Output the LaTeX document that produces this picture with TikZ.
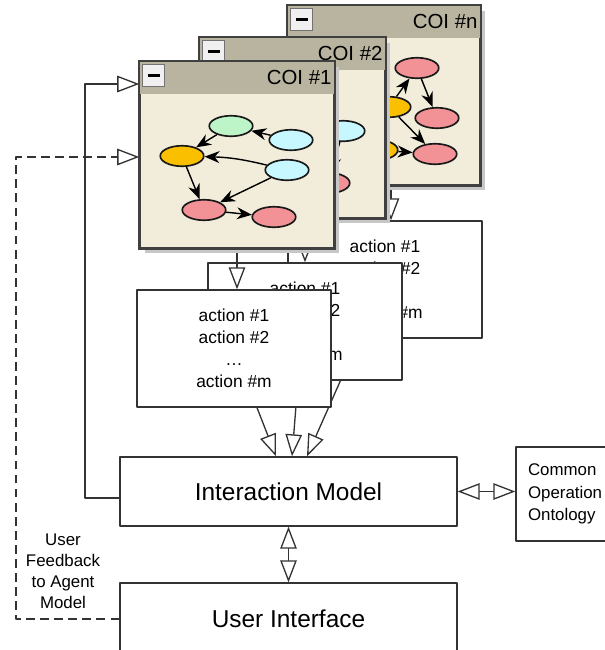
\documentclass[tikz,border=0pt]{standalone}
\usepackage{fontspec}
\setmainfont{Liberation Sans}
\usetikzlibrary{arrows.meta,shapes.geometric,shadows}
\pgfdeclarelayer{back}
\pgfdeclarelayer{front}
\pgfsetlayers{back,main,front}
\definecolor{winbody}{RGB}{241,237,218}
\definecolor{winbar}{RGB}{184,180,160}
\definecolor{winedge}{RGB}{64,64,64}
\definecolor{nodegreen}{RGB}{190,245,200}
\definecolor{nodecyan}{RGB}{200,248,255}
\definecolor{nodeorange}{RGB}{250,192,0}
\definecolor{nodepink}{RGB}{242,145,150}
\tikzset{
	coiwin/.style={draw=winedge,line width=0.9pt,fill=winbody,inner sep=0pt,drop shadow={shadow xshift=0.1cm,shadow yshift=-0.1cm,fill=black!22,opacity=1}},
	titlebar/.style={fill=winbar,inner sep=0pt,minimum height=0.64cm},
	minbtn/.style={draw=black!55,fill=black!6,inner sep=0pt,minimum width=0.44cm,minimum height=0.44cm},
	coititle/.style={font=\fontsize{11.6}{13}\selectfont,inner sep=0pt,anchor=east},
	gnode/.style={ellipse,draw=black!90,line width=0.95pt,inner sep=0pt,minimum width=0.87cm,minimum height=0.41cm},
	gedge/.style={-{Stealth[length=0.3cm,width=0.24cm]},line width=0.8pt},
	actbox/.style={draw=black!80,fill=white,line width=0.8pt,minimum width=3.88cm,minimum height=2.34cm,align=center,font=\fontsize{9.9}{12.5}\selectfont},
	modelbox/.style={draw=black!80,fill=white,line width=0.8pt,minimum width=6.74cm,font=\fontsize{13.9}{16}\selectfont},
	hollow/.style={-{Triangle[fill=white,length=0.44cm,width=0.33cm]},line width=0.75pt,draw=black!80},
	bothhollow/.style={{Triangle[fill=white,length=0.44cm,width=0.33cm]}-{Triangle[fill=white,length=0.44cm,width=0.33cm]},line width=0.75pt,draw=black!80}
}
\begin{document}
\begin{tikzpicture}[line cap=round,line join=round,x=0.02cm,y=-0.02cm]
	\useasboundingbox (0,0) rectangle (605,650);
	\begin{pgfonlayer}{front}
		\node[coiwin,minimum width=3.84cm,minimum height=3.58cm] (coin) at (384,95.5) {};
		\node[titlebar,minimum width=3.84cm,anchor=north] (coinbar) at (coin.north) {};
		\draw[winedge,line width=0.9pt] (coin.north west) rectangle (coin.south east);
		\node[minbtn,anchor=north west] (coinbtn) at ([shift={(3,3)}]coin.north west) {};
		\draw[line width=1.6pt,line cap=butt] ([xshift=-0.12cm]coinbtn.center) -- ([xshift=0.12cm]coinbtn.center);
		\node[coititle] (cointitle) at ([xshift=-0.05cm]coinbar.east) {COI \#n};
		\node[gnode,fill=nodeorange] (na) at (389,107) {};
		\node[gnode,fill=nodepink] (nb) at (417,68) {};
		\node[gnode,fill=nodepink] (nc) at (437,118) {};
		\node[gnode,fill=nodepink] (nd) at (435,154) {};
		\node[gnode,fill=nodeorange] (ne) at (376,150) {};
		\draw[gedge] (na) -- (nb);
		\draw[gedge] (nb) -- (nc);
		\draw[gedge] (na) -- (nd);
		\draw[gedge] (ne) -- (nd);

		\node[coiwin,minimum width=3.7cm,minimum height=3.6cm] (coitwo) at (292.5,128) {};
		\node[titlebar,minimum width=3.7cm,anchor=north] (coitwobar) at (coitwo.north) {};
		\draw[winedge,line width=0.9pt] (coitwo.north west) rectangle (coitwo.south east);
		\node[minbtn,anchor=north west] (coitwobtn) at ([shift={(3,3)}]coitwo.north west) {};
		\draw[line width=1.6pt,line cap=butt] ([xshift=-0.12cm]coitwobtn.center) -- ([xshift=0.12cm]coitwobtn.center);
		\node[coititle] (coitwotitle) at ([xshift=-0.05cm]coitwobar.east) {COI \#2};
		\node[gnode,fill=nodecyan] (ta) at (343,131) {};
		\node[gnode,fill=nodepink] (tb) at (328,183) {};
		\draw[gedge] (ta) -- (tb);

		\node[coiwin,minimum width=3.88cm,minimum height=3.72cm] (coione) at (237,155) {};
		\node[titlebar,minimum width=3.88cm,anchor=north] (coionebar) at (coione.north) {};
		\draw[winedge,line width=0.9pt] (coione.north west) rectangle (coione.south east);
		\node[minbtn,anchor=north west] (coionebtn) at ([shift={(3,3)}]coione.north west) {};
		\draw[line width=1.6pt,line cap=butt] ([xshift=-0.12cm]coionebtn.center) -- ([xshift=0.12cm]coionebtn.center);
		\node[coititle] (coionetitle) at ([xshift=-0.05cm]coionebar.east) {COI \#1};
		\node[gnode,fill=nodegreen] (oa) at (231,126) {};
		\node[gnode,fill=nodecyan] (ob) at (291,140) {};
		\node[gnode,fill=nodeorange] (oc) at (182,156) {};
		\node[gnode,fill=nodecyan] (od) at (287,170) {};
		\node[gnode,fill=nodepink] (oe) at (204,210) {};
		\node[gnode,fill=nodepink] (of) at (274,217) {};
		\draw[gedge] (ob) -- (oa);
		\draw[gedge] (oa) -- (oc);
		\draw[gedge] (od) to[bend right=6] (oc);
		\draw[gedge] (od) -- (oe);
		\draw[gedge] (oc) -- (oe);
		\draw[gedge] (oe) -- (of);
	\end{pgfonlayer}

	\node[actbox] (actthree) at (385,279.5) {action \#1\\action \#2\\\ldots\\action \#m};
	\node[actbox] (acttwo) at (305,321.5) {action \#1\\action \#2\\\ldots\\action \#m};
	\node[actbox] (actone) at (234,348.5) {action \#1\\action \#2\\\ldots\\action \#m};

	\node[modelbox,minimum height=1.38cm] (im) at (288.5,491.5) {Interaction Model};
	\node[modelbox,minimum height=1.44cm] (ui) at (288.5,619) {User Interface};
	\node[draw=black!80,line width=0.8pt,text width=1.52cm,inner xsep=0.24cm,minimum height=1.88cm,align=left,font=\fontsize{9.6}{13}\selectfont] (coo) at (566,494) {Common\\Operation\\Ontology};
	\node[align=center,font=\fontsize{9.6}{11.9}\selectfont] (fblabel) at (63,571) {User\\Feedback\\to Agent\\Model};

	\coordinate (coinfoot) at ([xshift=0.14cm]coin.south);
	\draw[hollow] (coione.south) -- (coione.south |- actone.north);
	\draw[hollow] (coitwo.south -| acttwo.north) -- (acttwo.north);
	\draw[hollow] (coinfoot) -- (coinfoot |- actthree.north);

	\begin{pgfonlayer}{back}
		\draw[hollow] ([xshift=0.46cm]actone.south) -- ([xshift=-0.25cm]im.north);
		\draw[hollow] ([xshift=-0.14cm]acttwo.south) -- ([xshift=0.07cm]im.north);
		\draw[hollow] ([xshift=-0.52cm]actthree.south) -- ([xshift=0.37cm]im.north);
	\end{pgfonlayer}

	\draw[hollow] ([yshift=-0.13cm]im.west) -| (85,84) -- (coione.west |- 0,84);
	\draw[hollow,dash pattern=on 5pt off 3pt,line cap=butt] (ui.west) -| (16,157) -- (coione.west |- 0,157);
	\draw[bothhollow] (im.east) -- (im.east -| coo.west);
	\draw[bothhollow] (im.south) -- (ui.north);
\end{tikzpicture}
\end{document}
